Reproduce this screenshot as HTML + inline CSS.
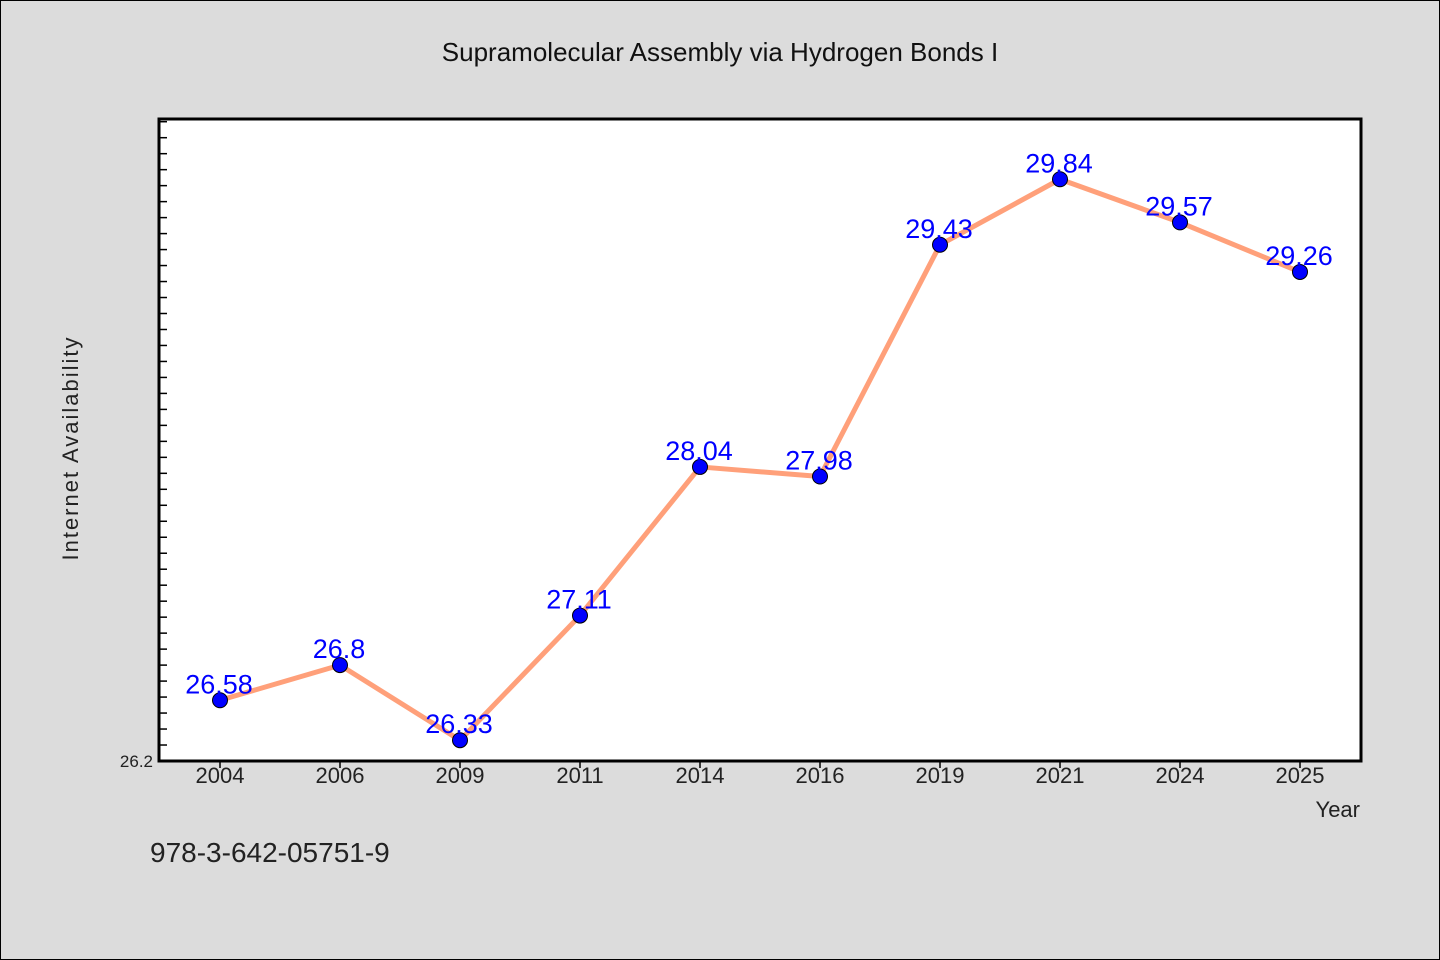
<!DOCTYPE html>
<html><head><meta charset="utf-8"><style>
body{margin:0;background:#dcdcdc;}
svg{display:block;font-family:"WenQuanYi Zen Hei","Liberation Sans",sans-serif;}
</style></head><body>
<svg id="chart" width="1440" height="960" xmlns="http://www.w3.org/2000/svg">
<rect x="0.5" y="0.5" width="1439" height="959" fill="#dcdcdc" stroke="#000" stroke-width="1"/>
<text x="720" y="61" text-anchor="middle" font-size="26" fill="#111">Supramolecular Assembly via Hydrogen Bonds I</text>
<rect x="159" y="119" width="1202" height="642" fill="#fff"/>
<g id="ticks"></g>
<g id="series"></g>
<rect x="159" y="119" width="1202" height="642" fill="none" stroke="#000" stroke-width="3"/>
<text x="78" y="448" text-anchor="middle" font-size="22" fill="#222" letter-spacing="2" transform="rotate(-90 78 448)">Internet Availability</text>
<text x="1360" y="817" text-anchor="end" font-size="22" fill="#222">Year</text>
<text x="150" y="862" font-size="28" fill="#222">978-3-642-05751-9</text>
</svg>
<script>
const categories=["2004","2006","2009","2011","2014","2016","2019","2021","2024","2025"];
const values=[26.58,26.8,26.33,27.11,28.04,27.98,29.43,29.84,29.57,29.26];
const valueLabels=["26.58","26.8","26.33","27.11","28.04","27.98","29.43","29.84","29.57","29.26"];
const yMin=26.2, yMax=30.217;
const NS="http://www.w3.org/2000/svg";
function xs(i){return 220+i*120;}
function ys(v){return 761-(v-yMin)/(yMax-yMin)*642;}
function mk(tag,attrs,parent){const e=document.createElementNS(NS,tag);for(const k in attrs)e.setAttribute(k,attrs[k]);parent.appendChild(e);return e;}
const tg=document.getElementById('ticks'), sg=document.getElementById('series');
for(let k=0;k<=40;k++){const v=yMin+k*0.1;const y=ys(v);
 const t=mk('line',{x1:159,x2:167,y1:y,y2:y,stroke:'#000','stroke-width':1.5},tg);
 
 }
const yl=mk('text',{x:153,y:767,'text-anchor':'end','font-size':17,fill:'#222'},tg);


yl.textContent="26.2";
categories.forEach((c,i)=>{const x=xs(i);
 const t=mk('line',{x1:x,x2:x,y1:761,y2:768,stroke:'#000','stroke-width':1.5},tg);
 
 
 const l=mk('text',{x:x,y:783,'text-anchor':'middle','font-size':22,fill:'#222'},tg);
 
 
 l.textContent=c;});
const pl=mk('polyline',{points:values.map((v,i)=>xs(i)+','+ys(v)).join(' '),fill:'none',stroke:'#ffa07a','stroke-width':5,'stroke-linejoin':'round'},sg);


values.forEach((v,i)=>{
 const c=mk('circle',{cx:xs(i),cy:ys(v),r:7.5,fill:'#0000ff',stroke:'#000','stroke-width':1},sg);
 
 
 const t=mk('text',{x:xs(i)-1,y:ys(v)-7,'text-anchor':'middle','font-size':27,fill:'#0000ff'},sg);
 
 
 t.textContent=valueLabels[i];});
</script>
</body></html>
